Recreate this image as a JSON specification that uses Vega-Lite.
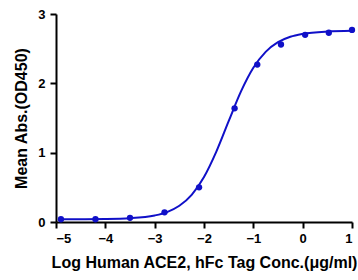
{
  "$schema": "https://vega.github.io/schema/vega-lite/v6.json",
  "autosize": "none",
  "width": 296,
  "height": 208,
  "padding": {"left": 56, "top": 14, "right": 6, "bottom": 58},
  "background": "white",
  "config": {
    "view": {"stroke": null},
    "axis": {
      "domainColor": "black", "domainWidth": 2, "tickColor": "black", "tickWidth": 2, "tickSize": 6,
      "labelFont": "Liberation Sans", "labelFontWeight": "bold", "labelFontSize": 13, "labelColor": "black",
      "titleFont": "Liberation Sans", "titleFontWeight": "bold", "titleColor": "black", "titleFontSize": 16, "grid": false
    }
  },
  "datasets": {
    "pts": [
      {"x": -4.9, "y": 0.04}, {"x": -4.2, "y": 0.04}, {"x": -3.5, "y": 0.06}, {"x": -2.8, "y": 0.14},
      {"x": -2.1, "y": 0.5}, {"x": -1.38, "y": 1.64}, {"x": -0.92, "y": 2.27}, {"x": -0.44, "y": 2.56},
      {"x": 0.05, "y": 2.7}, {"x": 0.53, "y": 2.73}, {"x": 1.0, "y": 2.77}
    ],
    "curve": [
      {"x": -4.9, "y": 0.04}, {"x": -4.5, "y": 0.041}, {"x": -4.0, "y": 0.044}, {"x": -3.5, "y": 0.055},
      {"x": -3.0, "y": 0.094}, {"x": -2.75, "y": 0.143}, {"x": -2.5, "y": 0.234}, {"x": -2.25, "y": 0.392},
      {"x": -2.0, "y": 0.649}, {"x": -1.75, "y": 1.015}, {"x": -1.5, "y": 1.454}, {"x": -1.25, "y": 1.883},
      {"x": -1.0, "y": 2.224}, {"x": -0.75, "y": 2.454}, {"x": -0.5, "y": 2.593}, {"x": -0.25, "y": 2.671},
      {"x": 0.0, "y": 2.713}, {"x": 0.5, "y": 2.747}, {"x": 1.0, "y": 2.757}
    ]
  },
  "layer": [
    {
      "data": {"name": "curve"},
      "mark": {"type": "line", "color": "#1010c8", "strokeWidth": 2, "interpolate": "monotone"},
      "encoding": {
        "x": {"field": "x", "type": "quantitative", "scale": {"domain": [-5, 1], "nice": false},
          "axis": {"values": [-5, -4, -3, -2, -1, 0, 1], "format": "d", "title": "Log Human ACE2, hFc Tag Conc.(μg/ml)", "titlePadding": 9, "labelPadding": 4}},
        "y": {"field": "y", "type": "quantitative", "scale": {"domain": [0, 3], "nice": false},
          "axis": {"values": [0, 1, 2, 3], "format": "d", "title": "Mean Abs.(OD450)", "titlePadding": 8, "labelPadding": 5}}
      }
    },
    {
      "data": {"name": "pts"},
      "mark": {"type": "point", "filled": true, "color": "#1010c8", "size": 40, "opacity": 1},
      "encoding": {
        "x": {"field": "x", "type": "quantitative"},
        "y": {"field": "y", "type": "quantitative"}
      }
    }
  ]
}
